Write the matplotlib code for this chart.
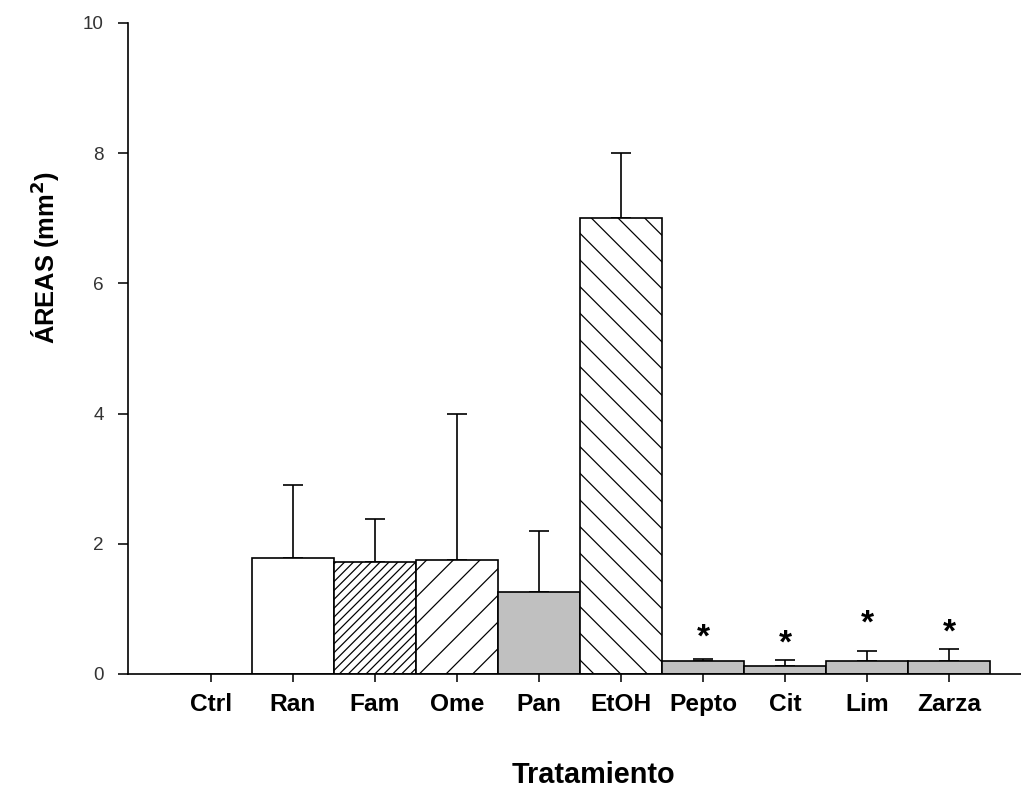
import numpy as np
import matplotlib
matplotlib.use('Agg')
import matplotlib.pyplot as plt

# data
tratamientos = ['Ctrl', 'Ran', 'Fam', 'Ome', 'Pan', 'EtOH', 'Pepto', 'Cit', 'Lim', 'Zarza']
areas = [0.0, 1.78, 1.72, 1.75, 1.26, 7.0, 0.20, 0.12, 0.20, 0.20]
errores = [0.0, 1.12, 0.66, 2.25, 0.94, 1.0, 0.03, 0.10, 0.15, 0.18]
asteriscos = {'Pepto': 0.55, 'Cit': 0.46, 'Lim': 0.76, 'Zarza': 0.63}

colores = ['white', 'white', 'white', 'white', '#c0c0c0', 'white',
           '#c0c0c0', '#c0c0c0', '#c0c0c0', '#c0c0c0']
tramas = [None, None, '//////', '//', None, '\\\\', None, None, None, None]

DPI = 160
plt.rcParams['font.family'] = ['Liberation Sans', 'DejaVu Sans']
plt.rcParams['hatch.linewidth'] = 0.55
plt.rcParams['hatch.color'] = 'black'

fig = plt.figure(figsize=(1021.0 / DPI, 792.0 / DPI), dpi=DPI)
ax = fig.add_axes([128.0 / 1021, 1 - 674.0 / 792, 1 - 128.0 / 1021, (674.0 - 23.0) / 792])

x = np.arange(len(tratamientos))
ax.bar(x, areas, width=1.0, color=colores, hatch=tramas,
       edgecolor='black', linewidth=0.75, zorder=2)

# only upper error bars, skip the empty control
con_error = [i for i in range(len(x)) if errores[i] > 0]
ax.errorbar(x[con_error], np.array(areas)[con_error],
            yerr=[np.zeros(len(con_error)), np.array(errores)[con_error]],
            fmt='none', ecolor='black', elinewidth=0.75, capsize=4.5,
            capthick=0.75, zorder=1)

for nombre, y in asteriscos.items():
    ax.text(tratamientos.index(nombre), y, '*', ha='center', va='center',
            fontsize=15, fontweight='bold')

ax.set_xlim(-1.012, 9.878)
ax.set_ylim(0, 10)
ax.set_yticks(np.arange(0, 11, 2))
ax.set_xticks(x)
ax.set_xticklabels(tratamientos, fontsize=11, fontweight='bold')
ax.tick_params(axis='x', direction='out', length=3.6, width=0.7, pad=5)
ax.tick_params(axis='y', direction='out', length=4.5, width=0.7, pad=6.5,
               labelsize=8.5, labelcolor='#333333')
ax.spines['top'].set_visible(False)
ax.spines['right'].set_visible(False)
ax.spines['left'].set_linewidth(0.75)
ax.spines['bottom'].set_linewidth(0.75)

fig.text(45.0 / 1021, 1 - 258.0 / 792, u'\u00c1REAS (mm$^{\\mathbf{2}}$)',
         rotation=90, ha='center', va='center', fontsize=11.5, fontweight='bold')
fig.text(593.0 / 1021, 1 - 775.0 / 792, 'Tratamiento', ha='center', va='center',
         fontsize=13, fontweight='bold')

fig.savefig('out.png', dpi=DPI)
